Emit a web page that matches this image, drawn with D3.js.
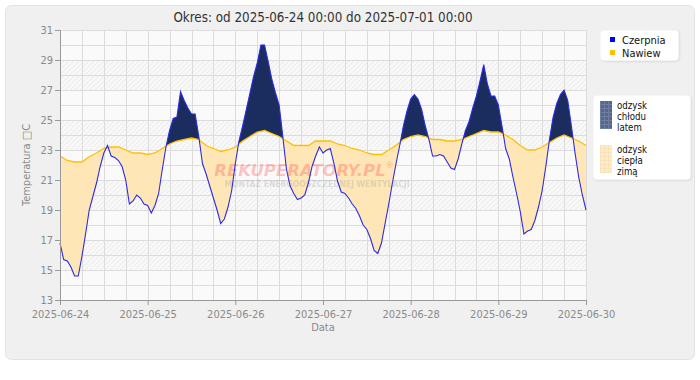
<!DOCTYPE html>
<html>
<head>
<meta charset="utf-8">
<script src="https://cdn.jsdelivr.net/npm/d3@7"></script>
<style>
  body { margin: 0; background: #ffffff; }
  svg { display: block; }
  text { font-family: "DejaVu Sans Condensed", "DejaVu Sans", sans-serif; }
</style>
</head>
<body>
<svg id="chart" width="700" height="380"></svg>
<script>
// ---------- DATA ----------
const titleText = "Okres: od 2025-06-24 00:00 do 2025-07-01 00:00";
const yAxisTitle = "Temperatura \u25A1C";
const xAxisTitle = "Data";
const seriesNames = ["Czerpnia", "Nawiew"];
const areaLegend = [["odzysk", "chłodu", "latem"], ["odzysk", "ciepła", "zimą"]];
const startTime = "2025-06-24T00:00:00";
const endTime = "2025-06-30T00:00:00";
const xTickLabels = ["2025-06-24", "2025-06-25", "2025-06-26", "2025-06-27", "2025-06-28", "2025-06-29", "2025-06-30"];
const yTickValues = [13, 15, 17, 19, 21, 23, 25, 27, 29, 31];

// Czerpnia (outdoor intake), one reading per hour from startTime
const czerpniaStepHours = 1;
const czerpnia = [
  16.8, 15.7, 15.6, 15.2, 14.6, 14.6, 15.9, 17.4, 19.0, 19.9, 20.8, 21.9,
  22.8, 23.3, 22.6, 22.5, 22.3, 21.9, 21.0, 19.4, 19.6, 20.0, 19.8, 19.4,
  19.3, 18.8, 19.3, 20.1, 21.7, 23.2, 24.3, 25.1, 25.2, 26.9, 26.3, 25.8,
  25.4, 25.4, 23.9, 22.1, 21.4, 20.6, 19.8, 19.0, 18.1, 18.4, 19.2, 20.3,
  22.1, 23.6, 24.6, 25.7, 26.8, 27.9, 28.8, 30.0, 30.0, 28.9, 27.7, 26.8,
  26.0, 23.9, 21.7, 20.6, 20.1, 19.7, 19.8, 20.0, 20.8, 21.9, 22.6, 23.2,
  22.8, 23.0, 23.1, 22.1, 20.9, 20.2, 20.1, 19.8, 19.4, 19.1, 18.6, 18.0,
  17.7, 17.1, 16.3, 16.1, 16.8, 18.1, 19.4, 20.8, 22.1, 23.3, 24.6, 25.6,
  26.4, 26.7, 26.4, 25.7, 24.6, 23.7, 22.6, 22.6, 22.7, 22.6, 22.2, 21.8,
  21.7, 22.4, 23.4, 24.3, 24.9, 25.8, 26.6, 27.6, 28.7, 27.4, 26.6, 26.6,
  26.0, 24.6, 23.1, 22.4, 21.2, 20.1, 18.9, 17.4, 17.6, 17.7, 18.3, 19.2,
  20.3, 21.9, 23.7, 25.2, 26.1, 26.7, 27.0, 26.3, 24.6, 22.8, 21.2, 20.0,
  19.0
];

// Nawiew (supply), one reading every 2 hours from startTime
const nawiewStepHours = 2;
const nawiew = [
  22.6, 22.3, 22.2, 22.2, 22.55, 22.8, 23.1, 23.2, 23.2, 23.0, 22.8, 22.8,
  22.7, 22.8, 23.1, 23.4, 23.6, 23.7, 23.8, 23.7, 23.3, 23.1, 22.9, 23.0,
  23.2, 23.6, 23.9, 24.2, 24.3, 24.1, 23.9, 23.6, 23.3, 23.3, 23.3, 23.6,
  23.6, 23.6, 23.4, 23.3, 23.1, 23.0, 22.8, 22.7, 22.7, 23.0, 23.3, 23.7,
  23.9, 24.0, 23.9, 23.7, 23.7, 23.6, 23.6, 23.7, 23.9, 24.1, 24.3, 24.2,
  24.2, 24.0, 23.7, 23.3, 23.0, 23.0, 23.2, 23.5, 23.8, 24.0, 23.8, 23.6,
  23.3
];

// ---------- LAYOUT ----------
const svg = d3.select("#chart");
const m = { left: 60, right: 586, top: 30, bottom: 300 };
const parse = d3.isoParse;
const t0 = parse(startTime);
const hour = 3600 * 1000;
const toPts = (arr, step) => arr.map((v, i) => ({ t: new Date(+t0 + i * step * hour), v }));
const czPts = toPts(czerpnia, czerpniaStepHours);
const nwPts = toPts(nawiew, nawiewStepHours);

const x = d3.scaleTime().domain([t0, parse(endTime)]).range([m.left, m.right]);
const y = d3.scaleLinear().domain([13, 31]).range([m.bottom, m.top]);

const defs = svg.append("defs");
const hatch = defs.append("pattern").attr("id", "hatch")
  .attr("patternUnits", "userSpaceOnUse").attr("width", 5).attr("height", 5);
hatch.append("rect").attr("width", 5).attr("height", 5).attr("fill", "#f8f8f8");
hatch.append("path").attr("d", "M0,5 L5,0 M-1,1 L1,-1 M4,6 L6,4")
  .attr("stroke", "#eaeaea").attr("stroke-width", 1);

const shadow = defs.append("filter").attr("id", "shadow").attr("x", "-20%").attr("y", "-20%").attr("width", "140%").attr("height", "140%");
shadow.append("feDropShadow").attr("dx", 1).attr("dy", 1).attr("stdDeviation", 1.2).attr("flood-color", "#000").attr("flood-opacity", 0.12);

// panel
svg.append("rect").attr("x", 5.5).attr("y", 5.5).attr("width", 689).attr("height", 354)
  .attr("rx", 6).attr("fill", "#f0f0f0").attr("stroke", "#e2e2e2");

// plot background
svg.append("rect").attr("x", m.left).attr("y", m.top)
  .attr("width", m.right - m.left).attr("height", m.bottom - m.top).attr("fill", "#fafafa");
const bands = [[27, 29], [23, 25], [19, 21], [15, 17]];
svg.append("g").selectAll("rect").data(bands).join("rect")
  .attr("x", m.left).attr("width", m.right - m.left)
  .attr("y", d => y(d[1])).attr("height", d => y(d[0]) - y(d[1]))
  .attr("fill", "url(#hatch)");

// grid
const gridG = svg.append("g").attr("stroke", "#dcdcdc").attr("stroke-width", 1);
gridG.selectAll("line.h").data(d3.range(14, 32)).join("line").attr("class", "h")
  .attr("x1", m.left).attr("x2", m.right)
  .attr("y1", d => Math.round(y(d)) + 0.5).attr("y2", d => Math.round(y(d)) + 0.5);
gridG.selectAll("line.v").data(d3.timeHour.every(6).range(t0, new Date(+parse(endTime) + 1))).join("line").attr("class", "v")
  .attr("y1", m.top).attr("y2", m.bottom)
  .attr("x1", d => Math.round(x(d)) + 0.5).attr("x2", d => Math.round(x(d)) + 0.5);

// fills between curves
const areaDown = d3.area().x(d => x(d.t)).y0(m.bottom).y1(d => y(d.v));
const areaUp = d3.area().x(d => x(d.t)).y0(m.top).y1(d => y(d.v));
defs.append("clipPath").attr("id", "belowCz").append("path").attr("d", areaDown(czPts));
defs.append("clipPath").attr("id", "belowNw").append("path").attr("d", areaDown(nwPts));

// summer cooling recovery: intake above supply
svg.append("path").attr("d", areaUp(nwPts)).attr("clip-path", "url(#belowCz)")
  .attr("fill", "#1b2d5e");
// winter heat recovery: supply above intake
svg.append("path").attr("d", areaUp(czPts)).attr("clip-path", "url(#belowNw)")
  .attr("fill", "#ffe6b6");

// watermark
const wm = svg.append("g").attr("pointer-events", "none");
const wmMain = wm.append("text").attr("x", 304).attr("y", 176).attr("text-anchor", "middle")
  .attr("font-weight", "bold").attr("font-style", "italic")
  .attr("font-size", 16.5).attr("fill", "#ff4a4a").attr("fill-opacity", 0.32)
  .style("font-family", "'DejaVu Sans', sans-serif");
wmMain.append("tspan").text("REKUPERATORY.PL");
wmMain.append("tspan").attr("font-size", 8).attr("font-style", "normal").attr("dy", -8).text("®");
wm.append("text").attr("x", 317).attr("y", 187).attr("text-anchor", "middle")
  .attr("font-weight", "bold").attr("font-size", 8.5).attr("fill", "#999").attr("fill-opacity", 0.3)
  .text("MONTAŻ ENERGOOSZCZĘDNEJ WENTYLACJI");

// lines
const line = d3.line().x(d => x(d.t)).y(d => y(d.v));
svg.append("path").attr("d", line(nwPts)).attr("fill", "none")
  .attr("stroke", "#ffbf00").attr("stroke-width", 1.3);
svg.append("path").attr("d", line(czPts)).attr("fill", "none")
  .attr("stroke", "#2b2be6").attr("stroke-width", 1.1);

// axes
const yAxis = d3.axisLeft(y).tickValues(yTickValues).tickSize(5).tickSizeOuter(5).tickFormat(d3.format("d"));
const yG = svg.append("g").attr("transform", `translate(${m.left},0)`).call(yAxis);
const xTicks = xTickLabels.map(s => parse(s + "T00:00:00"));
const xAxis = d3.axisBottom(x).tickValues(xTicks).tickSize(5).tickSizeOuter(0)
  .tickFormat((d, i) => xTickLabels[i]);
const xG = svg.append("g").attr("transform", `translate(0,${m.bottom})`).call(xAxis);
[yG, xG].forEach(g => {
  g.select(".domain").attr("stroke", "#999");
  g.selectAll(".tick line").attr("stroke", "#999");
  g.selectAll(".tick text").attr("fill", "#8a8a8a").attr("font-size", 11)
    .attr("font-family", "'DejaVu Sans Condensed', 'DejaVu Sans', sans-serif");
});
yG.selectAll(".tick text").attr("x", -7);
xG.selectAll(".tick text").attr("dy", "0.9em");

// titles
svg.append("text").attr("x", 323).attr("y", 22).attr("text-anchor", "middle")
  .attr("font-size", 13.3).attr("fill", "#333").text(titleText);
svg.append("text").attr("transform", "translate(30,165) rotate(-90)").attr("text-anchor", "middle")
  .attr("font-size", 11).attr("fill", "#8a8a8a").text(yAxisTitle);
svg.append("text").attr("x", 323).attr("y", 331).attr("text-anchor", "middle")
  .attr("font-size", 11).attr("fill", "#8a8a8a").text(xAxisTitle);

// legend 1
const lg1 = svg.append("g");
lg1.append("rect").attr("x", 600.5).attr("y", 30.5).attr("width", 78).attr("height", 30).attr("rx", 4)
  .attr("fill", "#fff").attr("filter", "url(#shadow)");
const seriesColors = ["#0000ff", "#ffbf00"];
seriesNames.forEach((n, i) => {
  lg1.append("rect").attr("x", 610).attr("y", 37 + i * 13).attr("width", 5).attr("height", 5).attr("fill", seriesColors[i]);
  lg1.append("text").attr("x", 622).attr("y", 43.5 + i * 13).attr("font-size", 11).attr("fill", "#111").text(n);
});

// legend 2
const sw1 = defs.append("pattern").attr("id", "sw1").attr("patternUnits", "userSpaceOnUse").attr("width", 4).attr("height", 4);
sw1.append("rect").attr("width", 4).attr("height", 4).attr("fill", "#56668c");
sw1.append("path").attr("d", "M0,0.5 H4 M0.5,0 V4").attr("stroke", "#6e7da0").attr("stroke-width", 1);
const sw2 = defs.append("pattern").attr("id", "sw2").attr("patternUnits", "userSpaceOnUse").attr("width", 4).attr("height", 4);
sw2.append("rect").attr("width", 4).attr("height", 4).attr("fill", "#fdebc9");
sw2.append("path").attr("d", "M0,0.5 H4 M0.5,0 V4").attr("stroke", "#f8e2b8").attr("stroke-width", 1);

const lg2 = svg.append("g");
lg2.append("rect").attr("x", 593.5).attr("y", 95.5).attr("width", 97).attr("height", 84).attr("rx", 4)
  .attr("fill", "#fff").attr("filter", "url(#shadow)");
["url(#sw1)", "url(#sw2)"].forEach((f, i) => {
  const oy = 101 + i * 44;
  lg2.append("rect").attr("x", 600).attr("y", oy).attr("width", 12).attr("height", 28).attr("fill", f);
  areaLegend[i].forEach((w, j) => {
    lg2.append("text").attr("x", 617).attr("y", oy + 7.5 + j * 11.2).attr("font-size", 9.6).attr("fill", "#111").text(w);
  });
});
</script>
</body>
</html>
